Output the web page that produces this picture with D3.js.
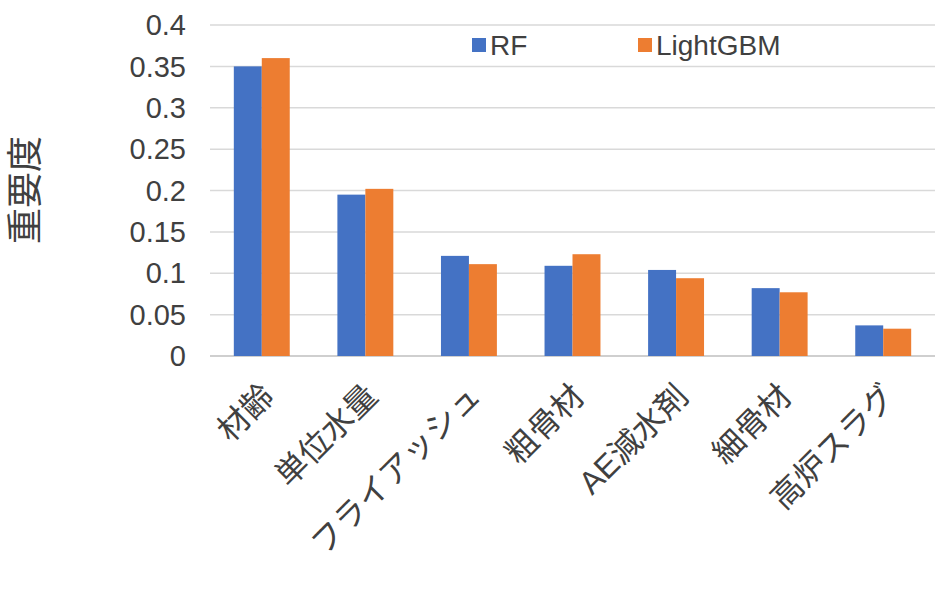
<!DOCTYPE html>
<html><head><meta charset="utf-8">
<script src="https://cdn.jsdelivr.net/npm/d3@7"></script>
<style>body{margin:0;background:#fff}text{font-family:Arial,"Liberation Sans","Noto Sans CJK JP",sans-serif;fill:#404040}</style>
</head><body>
<svg width="942" height="594"></svg>
<script>
const categories = ["材齢", "単位水量", "フライアッシュ", "粗骨材", "AE減水剤", "細骨材", "高炉スラグ"];
const rf = [0.35, 0.195, 0.121, 0.109, 0.104, 0.082, 0.037];
const lgbm = [0.36, 0.202, 0.111, 0.123, 0.094, 0.077, 0.033];
const yTicks = [0, 0.05, 0.1, 0.15, 0.2, 0.25, 0.3, 0.35, 0.4];
const seriesNames = ["RF", "LightGBM"];
const colors = ["#4472C4", "#ED7D31"];

const svg = d3.select("svg");
const margin = { left: 210, right: 7, top: 25, bottom: 238 };
const W = 942, H = 594;
const x = d3.scaleBand().domain(categories).range([margin.left, W - margin.right]).paddingInner(0.46).paddingOuter(0.23);
const xs = d3.scaleBand().domain([0, 1]).range([0, x.bandwidth()]);
const y = d3.scaleLinear().domain([0, 0.4]).range([H - margin.bottom, margin.top]);

svg.append("g").selectAll("line").data(yTicks).join("line")
  .attr("x1", margin.left).attr("x2", W - margin.right)
  .attr("y1", d => y(d)).attr("y2", d => y(d))
  .attr("stroke", d => d === 0 ? "#bfbfbf" : "#d9d9d9").attr("stroke-width", 1.5);

svg.append("g").selectAll("text").data(yTicks).join("text")
  .attr("x", 186).attr("y", d => y(d)).attr("dy", "0.35em")
  .attr("text-anchor", "end").style("font-size", "29px")
  .text(d => d3.format("~g")(d));

const series = [rf, lgbm];
series.forEach((vals, s) => {
  svg.append("g").selectAll("rect").data(vals).join("rect")
    .attr("x", (d, i) => x(categories[i]) + xs(s))
    .attr("y", d => y(d))
    .attr("width", xs.bandwidth())
    .attr("height", d => y(0) - y(d))
    .attr("fill", colors[s]);
});

svg.append("g").selectAll("text").data(categories).join("text")
  .attr("transform", d => `translate(${x(d) + x.bandwidth() / 2 + 14},${y(0) + 42}) rotate(-45)`)
  .attr("text-anchor", "end").style("font-size", "32px")
  .text(d => d);

svg.append("text")
  .attr("transform", `translate(38,190) rotate(-90)`)
  .attr("text-anchor", "middle").style("font-size", "36px")
  .text("重要度");

const legendX = [472, 638];
seriesNames.forEach((n, i) => {
  svg.append("rect").attr("x", legendX[i]).attr("y", 38).attr("width", 14).attr("height", 14).attr("fill", colors[i]);
  svg.append("text").attr("x", legendX[i] + 18).attr("y", 45).attr("dy", "0.35em").style("font-size", "28px").text(n);
});
</script>
</body></html>
